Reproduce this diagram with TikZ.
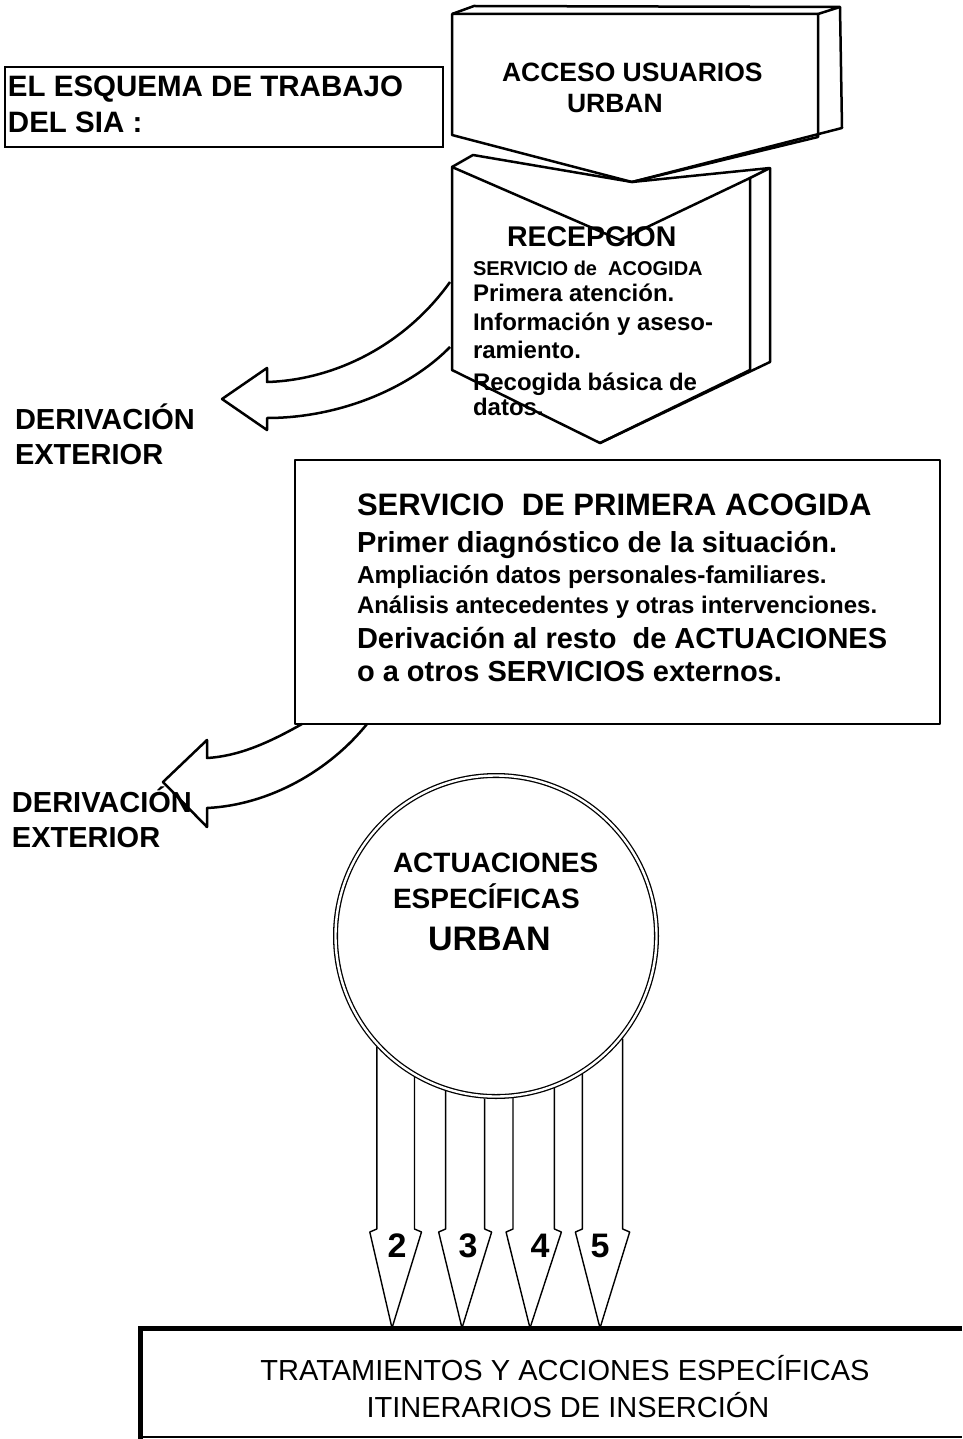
\documentclass[tikz,border=0pt]{standalone}
\usepackage{fontspec}
\setmainfont{Liberation Sans}
\newcommand\fsz[1]{\fontsize{#1}{#1}\selectfont}
\begin{document}
\begin{tikzpicture}[x={(1pt,0pt)},y={(0pt,-1pt)},
  txt/.style={inner sep=0pt, outer sep=0pt, anchor=base west},
  bold/.style={txt, font=\bfseries\fsz{#1}},
  plain/.style={inner sep=0pt, outer sep=0pt, anchor=base, font=\fsz{#1}},
  ln/.style={line width=2.5pt, line join=round},
  thinln/.style={line width=1.4pt, line join=round},
  digit/.style={inner sep=0pt, outer sep=0pt, anchor=base, font=\bfseries\fsz{34}}]
\useasboundingbox (0,0) rectangle (962,1439);

% title box
\draw[line width=2pt] (5,67) rectangle (443,147);
\node[bold=29.5] (t1) at (8,97) {EL ESQUEMA DE TRABAJO};
\node[bold=29.5] (t2) at (8,133) {DEL SIA :};

% ACCESO USUARIOS (3D pentagon)
\draw[ln] (452,14) -- (818,14) -- (818,137) -- (632,182) -- (452,135) -- cycle;
\draw[ln] (452,14) -- (474,6) -- (840,7) -- (818,14);
\draw[ln] (840,7) -- (842,128) -- (632,182);
\node[bold=26.5] (acc1) at (502,82) {ACCESO USUARIOS};
\node[bold=26.5] (acc2) at (567,113) {URBAN};

% RECEPCION (3D chevron)
\draw[ln] (452,167) -- (620,240) -- (750,178) -- (750,370) -- (600,443) -- (452,370) -- cycle;
\draw[ln] (452,167) -- (473,155) -- (632,182) -- (770,168) -- (750,178);
\draw[ln] (770,168) -- (770,362) -- (600,443);
\node[bold=28.5] (rec) at (507,247) {RECEPCION};
\node[bold=20] (rec1) at (473,275) {SERVICIO de \ ACOGIDA};
\node[bold=24] (rec2) at (473,301) {Primera atención.};
\node[bold=24] (rec3) at (473,330) {Información y aseso-};
\node[bold=24] (rec4) at (473,358) {ramiento.};
\node[bold=24] (rec5) at (473,390) {Recogida básica de};
\node[bold=24] (rec6) at (473,415) {datos.};

% curved arrow 1
\coordinate (a1s) at (450,282);
\coordinate (a1e) at (450,347);
\draw[ln] (a1s) .. controls (405,345) and (335,380) .. (267,382) -- (267,368) -- (222,399)
  -- (267,430) -- (267,418) .. controls (340,418) and (410,388) .. (a1e);
\node[bold=29] (d1a) at (15,429) {DERIVACIÓN};
\node[bold=29] (d1b) at (15,464) {EXTERIOR};

% SERVICIO DE PRIMERA ACOGIDA box
\draw[ln] (295,460) rectangle (940,724);
\node[bold=31] (s1) at (357,515) {SERVICIO \ DE PRIMERA ACOGIDA};
\node[bold=29] (s2) at (357,552) {Primer diagnóstico de la situación.};
\node[bold=24.5] (s3) at (357,583) {Ampliación datos personales-familiares.};
\node[bold=24] (s4) at (357,613) {Análisis antecedentes y otras intervenciones.};
\node[bold=29] (s5) at (357,648) {Derivación al resto \ de ACTUACIONES};
\node[bold=29] (s6) at (357,681) {o a otros SERVICIOS externos.};

% curved arrow 2
\coordinate (a2s) at (302,724);
\coordinate (a2e) at (367,724);
\draw[ln] (a2s) .. controls (270,742) and (240,756) .. (207,758) -- (207,740) -- (163,782)
  -- (207,827) -- (207,808) .. controls (270,805) and (330,770) .. (a2e);
\node[bold=29] (d2a) at (12,812) {DERIVACIÓN};
\node[bold=29] (d2b) at (12,847) {EXTERIOR};

% circle
\node[circle, draw, double, line width=1.3pt, double distance=2.4pt,
      minimum size=321pt, inner sep=0pt, outer sep=2.5pt] (act) at (496,936) {};
\node[bold=28] (c1) at (393,872) {ACTUACIONES};
\node[bold=28] (c2) at (393,908) {ESPECÍFICAS};
\node[bold=34] (c3) at (428,950) {URBAN};

% bottom box
\coordinate (btl) at (140,1328);
\draw[line width=5pt] (962,1328) -- (btl) -- (140,1439);
\draw[line width=1.2pt] (140,1437) -- (962,1437);
\node[plain=29] (b1) at (565,1380) {TRATAMIENTOS Y ACCIONES ESPECÍFICAS};
\node[plain=29] (b2) at (568,1417) {ITINERARIOS DE INSERCIÓN};

% block arrows from the circle to the bottom box
\foreach \al/\ar/\tx/\dx/\nm in {-137.9/-120.6/392/397/2, -108.6/-94.6/462/468/3,
                                 -84.4/-69.9/530/540/4, -58.2/-39.4/600/600/5} {
  \draw[thinln] (act.\al) -- (act.\al |- 0,1229) -- ++(-7,3) -- (\tx,1328) coordinate (tip\nm);
  \draw[thinln] (act.\ar) -- (act.\ar |- 0,1229) -- ++(7,3) -- (tip\nm);
  \node[digit] (n\nm) at (\dx,1257) {\nm};
}
\end{tikzpicture}
\end{document}
